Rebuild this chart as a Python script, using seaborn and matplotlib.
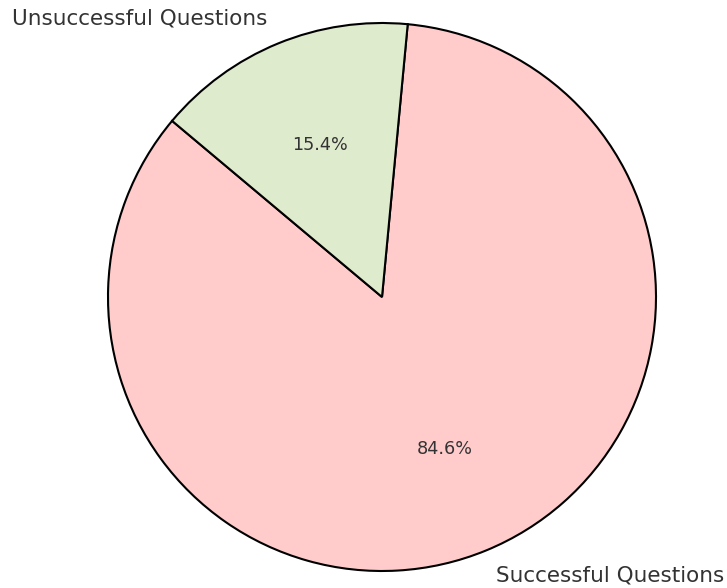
"""Pie chart of successful vs unsuccessful questions."""

import matplotlib
matplotlib.use("Agg")
import matplotlib.pyplot as plt
import seaborn as sns

labels = ["Successful Questions", "Unsuccessful Questions"]
counts = [11, 2]
colors = ["#ffcbcb", "#dfebcd"]

sns.set_theme(style="white")
plt.rcParams["font.family"] = ["DejaVu Sans"]

W, H = 727, 588
fig = plt.figure(figsize=(W / 100, H / 100), dpi=100)

# pie centre (382, 297) px, radius 274 px
r_px = 274
lim = 1.02
half = lim * r_px
ax = fig.add_axes([(382 - half) / W, (H - 297 - half) / H, 2 * half / W, 2 * half / H])

wedges, texts, autotexts = ax.pie(
    counts,
    labels=labels,
    colors=colors,
    autopct="%1.1f%%",
    startangle=140,
    wedgeprops={"edgecolor": "black", "linewidth": 1.5},
    textprops={"color": "#333333"},
)
for t in texts:
    t.set_fontsize(15.5)
for t in autotexts:
    t.set_fontsize(12.7)

ax.set_xlim(-lim, lim)
ax.set_ylim(-lim, lim)
ax.set_aspect("equal")
ax.axis("off")

fig.savefig("out.png", dpi=100, facecolor="white")
plt.close(fig)
